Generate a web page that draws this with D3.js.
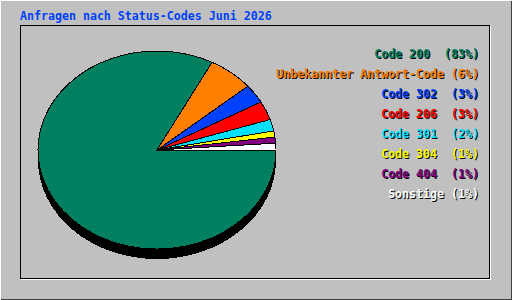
<!DOCTYPE html>
<html>
<head>
<meta charset="utf-8">
<script src="https://cdn.jsdelivr.net/npm/d3@7"></script>
<style>
  body { margin: 0; background: #c0c0c0; }
  svg { display: block; }
  text { font-family: "DejaVu Sans Mono", monospace; font-weight: bold; white-space: pre; }
</style>
</head>
<body>
<svg id="chart"></svg>
<script>
// chart data
var title = "Anfragen nach Status-Codes Juni 2026";
var labels = ["Code 200 ", "Unbekannter Antwort-Code", "Code 302 ", "Code 206 ",
              "Code 301 ", "Code 304 ", "Code 404 ", "Sonstige"];
var values = [83.0, 6.2, 3.1, 3.1, 1.9, 1.0, 1.0, 1.1];
var colors = ["#008060", "#ff8000", "#0040ff", "#ff0000",
              "#00e0ff", "#ffff00", "#800080", "#ffffff"];

var width = 512,
    height = 300;

var svg = d3.select("#chart")
    .attr("width", width)
    .attr("height", height);

// background and 3d borders
svg.append("rect").attr("width", width).attr("height", height).attr("fill", "#c0c0c0");
var frame = svg.append("g").attr("shape-rendering", "crispEdges").attr("stroke-width", 1);
frame.append("path").attr("d", "M0.5,299.5 V0.5 H511.5").attr("stroke", "#ffffff").attr("fill", "none");
frame.append("path").attr("d", "M0.5,299.5 H511.5 V0.5").attr("stroke", "#404040").attr("fill", "none");
frame.append("path").attr("d", "M20.5,279.5 H490.5 V25.5").attr("stroke", "#ffffff").attr("fill", "none");
frame.append("path").attr("d", "M20.5,279 V25.5 H490").attr("stroke", "#000000").attr("fill", "none");
frame.append("path").attr("d", "M20.5,278.5 H489.5 V25.5").attr("stroke", "#000000").attr("fill", "none");

// font size so one glyph is 7px wide
var fs = 7 / 0.602;

svg.append("text")
    .attr("x", 20)
    .attr("y", 19.5)
    .attr("font-size", fs)
    .attr("fill", "#0040ff")
    .text(title);

// pie
var cx = 157, cy = 150, rx = 119, ry = 99, depth = 10;

var total = d3.sum(values);
var pie = d3.pie().sort(null)
    .startAngle(Math.PI / 2)
    .endAngle(Math.PI / 2 + 2 * Math.PI);
var arc = d3.arc().innerRadius(0).outerRadius(1);

var pieg = svg.append("g")
    .attr("shape-rendering", "crispEdges");

// the black side of the disc
pieg.append("ellipse")
    .attr("cx", cx).attr("cy", cy + depth)
    .attr("rx", rx).attr("ry", ry)
    .attr("fill", "#000000");

var slices = pieg.append("g")
    .attr("transform", "translate(" + cx + "," + cy + ") scale(" + rx + "," + ry + ")");

slices.selectAll(".slice")
    .data(pie(values))
    .enter().append("path")
    .attr("class", "slice")
    .attr("d", arc)
    .attr("fill", function(d, i){ return colors[i]; })
    .attr("stroke", "#000000")
    .attr("stroke-width", 1)
    .attr("vector-effect", "non-scaling-stroke");

// legend
var legend = svg.append("g");
labels.forEach(function(l, i){
    var pct = Math.round(values[i] / total * 100);
    var s = l + " (" + pct + "%)";
    var y = 58 + i * 20;
    legend.append("text")
        .attr("x", 480).attr("y", y + 1)
        .attr("text-anchor", "end")
        .attr("font-size", fs)
        .attr("fill", "#000000")
        .text(s);
    legend.append("text")
        .attr("x", 479).attr("y", y)
        .attr("text-anchor", "end")
        .attr("font-size", fs)
        .attr("fill", colors[i])
        .text(s);
});
</script>
</body>
</html>
